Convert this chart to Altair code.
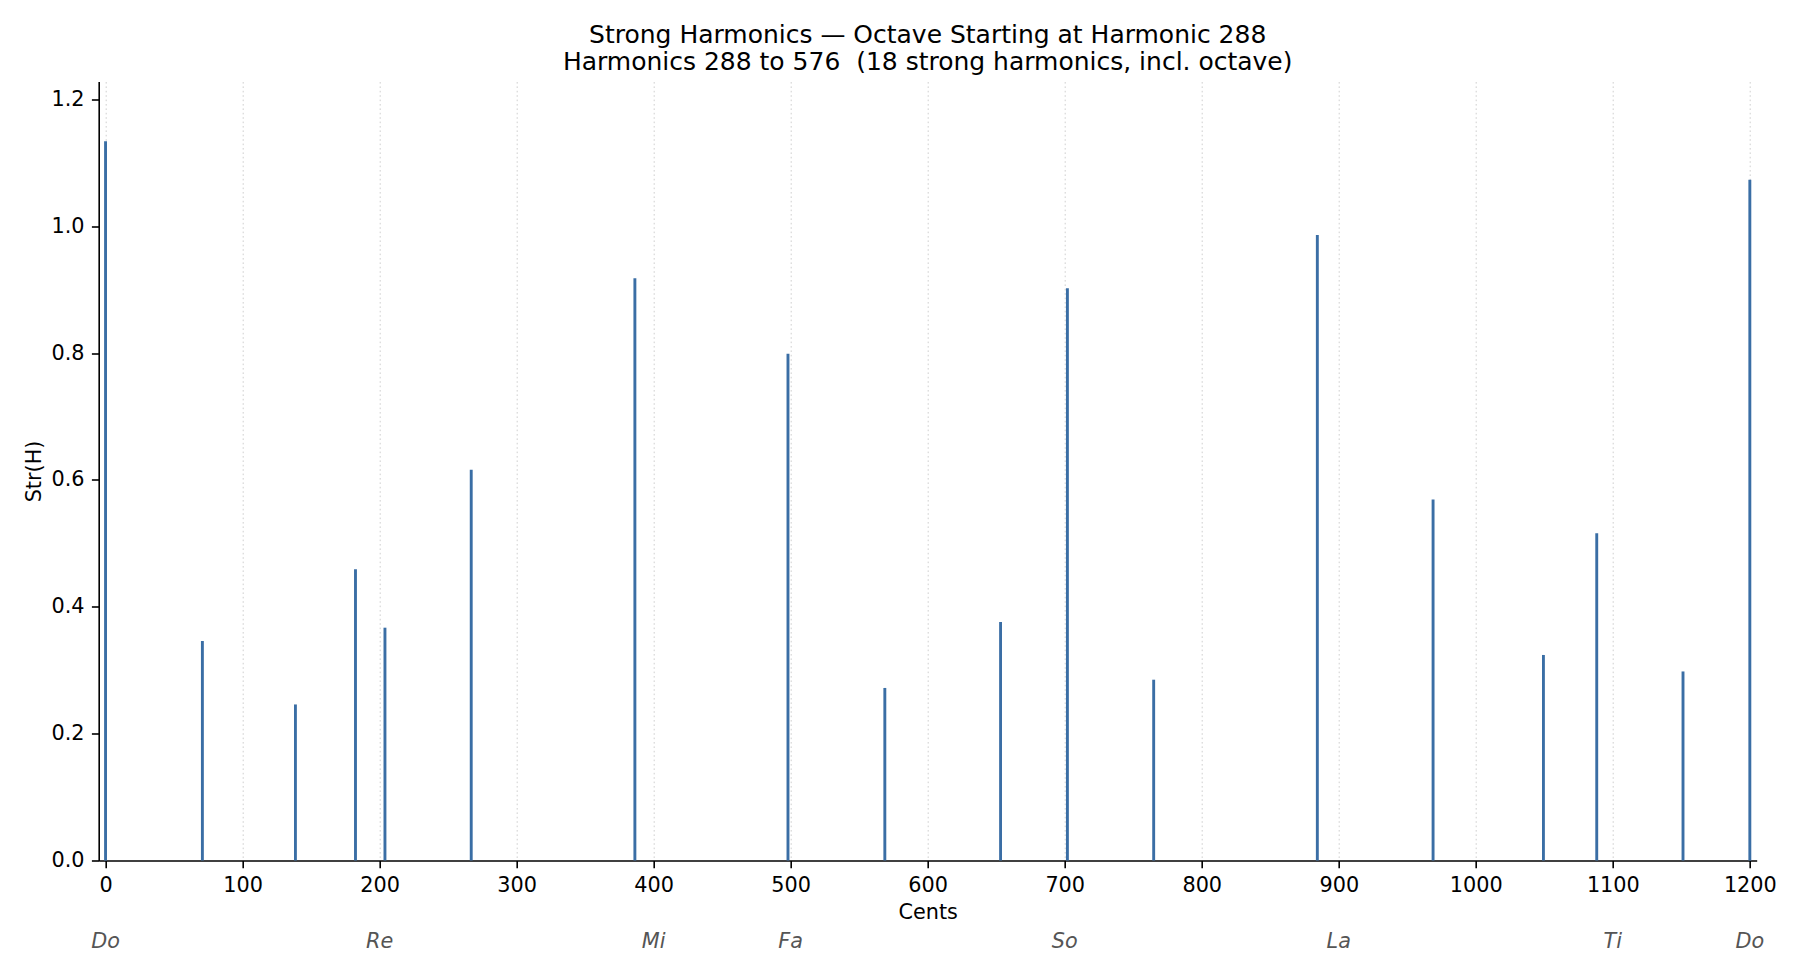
import altair as alt
import pandas as pd

# Strong harmonics in the octave starting at harmonic 288
harmonics = [288, 300, 312, 320, 324, 336, 360, 384, 400, 420, 432, 448, 480, 504, 528, 540, 560, 576]
cents = [0.0, 70.67, 138.57, 182.40, 203.91, 266.87, 386.31, 498.04, 568.72, 653.19,
         701.96, 764.92, 884.36, 968.83, 1049.36, 1088.27, 1151.23, 1200.0]
strength = [1.134, 0.346, 0.246, 0.459, 0.367, 0.616, 0.918, 0.799, 0.272, 0.376,
            0.902, 0.285, 0.986, 0.569, 0.324, 0.516, 0.298, 1.073]

# Solfege reference labels under the axis
note_names = ["Do", "Re", "Mi", "Fa", "So", "La", "Ti", "Do"]
note_cents = [0, 200, 400, 500, 700, 900, 1100, 1200]

x_ticks = [0, 100, 200, 300, 400, 500, 600, 700, 800, 900, 1000, 1100, 1200]
y_ticks = [0.0, 0.2, 0.4, 0.6, 0.8, 1.0, 1.2]

title_lines = [
    "Strong Harmonics \u2014 Octave Starting at Harmonic 288",
    "Harmonics 288 to 576 \u00a0(18 strong harmonics, incl. octave)",
]

df = pd.DataFrame({"harmonic": harmonics, "cents": cents, "strength": strength})
notes_df = pd.DataFrame({"note": note_names, "cents": note_cents})

FONT = "DejaVu Sans"

x_scale = alt.Scale(domain=[-5, 1205], nice=False, zero=False)
y_scale = alt.Scale(domain=[0, 1.228], nice=False)

x_axis = alt.Axis(
    values=x_ticks, format="d", title="Cents", grid=True,
    gridDash=[1.6, 2.8], gridColor="#cfcfcf", gridWidth=1.0,
    tickSize=7.3, tickWidth=1.6, tickColor="#000000",
    domainColor="#000000", domainWidth=1.6,
    labelPadding=7.3, labelFontSize=20.8, labelFont=FONT, labelColor="#000000",
    titleFontSize=20.8, titleFont=FONT, titleFontWeight="normal", titleColor="#000000",
    titlePadding=8, labelFlush=False,
)
y_axis = alt.Axis(
    values=y_ticks, format=".1f", title="Str(H)", grid=False,
    tickSize=7.3, tickWidth=1.6, tickColor="#000000",
    domainColor="#000000", domainWidth=1.6,
    labelPadding=7.3, labelFontSize=20.8, labelFont=FONT, labelColor="#000000",
    titleFontSize=20.8, titleFont=FONT, titleFontWeight="normal", titleColor="#000000",
    titlePadding=7, labelFlush=False,
)

stems = alt.Chart(df).mark_rule(color="#3a6ea5", strokeWidth=2.9).encode(
    x=alt.X("cents:Q", scale=x_scale, axis=x_axis),
    y=alt.Y("strength:Q", scale=y_scale, axis=y_axis),
    y2=alt.datum(0),
)

notes = alt.Chart(notes_df).mark_text(
    font=FONT, fontSize=20.8, fontStyle="italic", color="#555555",
    align="center", baseline="alphabetic",
).encode(
    x=alt.X("cents:Q", scale=x_scale, axis=x_axis),
    y=alt.value(867),
    text="note:N",
)

chart = alt.layer(stems, notes).properties(
    width=1658,
    height=779,
    autosize=alt.AutoSizeParams(type="none"),
    padding={"left": 90.7, "top": 73.5, "right": 28, "bottom": 100},
    title=alt.TitleParams(
        text=title_lines, font=FONT, fontSize=25, fontWeight="normal",
        color="#000000", anchor="middle", lineHeight=28, offset=6,
    ),
).configure(background="white").configure_view(stroke=None, strokeWidth=0)

chart.save("out.html", embed_options={"renderer": "svg", "actions": False})
